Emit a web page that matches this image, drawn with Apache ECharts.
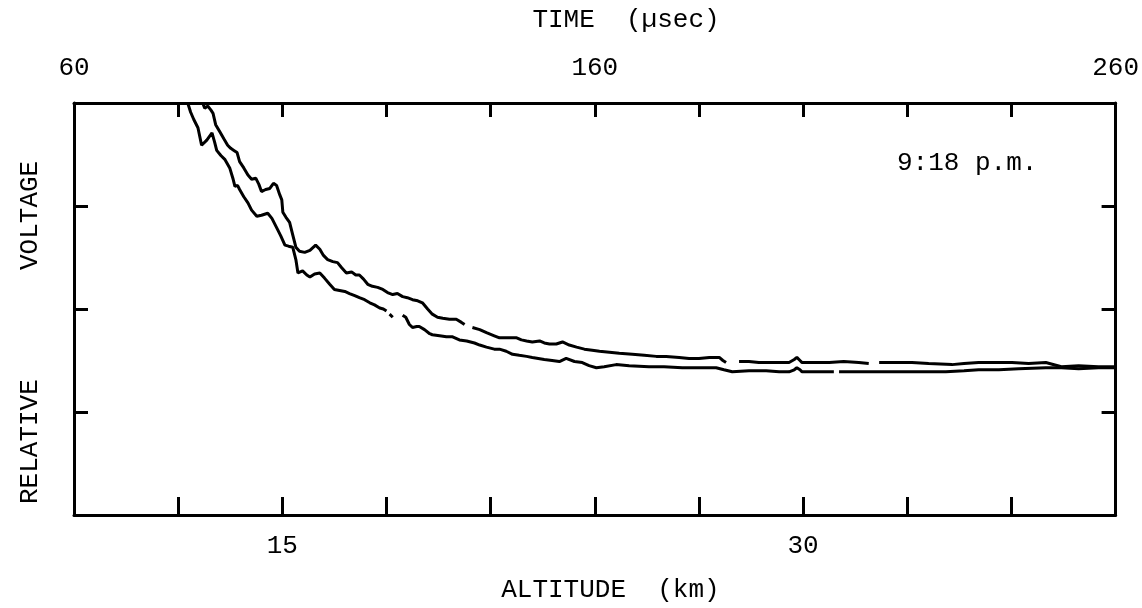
<!DOCTYPE html>
<html>
<head>
<meta charset="utf-8">
<script src="https://cdn.jsdelivr.net/npm/echarts@6/dist/echarts.min.js"></script>
<style>
html,body{margin:0;padding:0;background:#fff;}
#chart{width:1142px;height:608px;}
</style>
</head>
<body>
<div id="chart"></div>
<script>
// Top axis: time in microseconds; bottom axis: altitude in km
const timeTickLabels = [60, 160, 260];
const altitudeTickLabels = [15, 30];
const annotation = '9:18 p.m.';

// Upper trace (time µs, relative voltage); null = gap in the trace
const upperT = [84.7,85.1,85.7,86.3,86.7,87.2,88.0,88.8,89.5,90.1,90.7,91.3,91.8,92.6,93.4,94.1,94.9,95.5,96.0,96.8,97.6,98.3,98.9,99.5,99.9,100.1,100.7,101.4,102.0,102.6,103.3,104.3,105.3,106.4,107.2,107.9,108.7,109.7,110.6,111.4,112.3,113.3,114.1,114.8,115.6,116.4,117.3,118.3,119.3,120.2,121.2,122.1,123.1,124.0,125.0,126.0,126.9,127.9,128.8,129.8,130.8,132.1,133.4,134.4,135.0,135.8,136.5,137.9,139.2,140.7,141.7,143.0,144.0,145.0,145.9,146.9,148.0,149.4,150.3,151.3,152.6,153.8,155.1,156.5,158.0,159.5,160.9,162.8,164.7,167.2,169.5,171.8,173.7,176.2,178.1,180.0,182.0,183.9,184.6,185.2,186.5,187.7,189.6,191.5,192.9,195.4,197.3,198.3,198.8,199.4,199.8,202.1,205.0,207.8,210.7,212.6,213.6,214.6,217.4,220.9,224.1,228.6,230.9,233.7,236.6,240.1,243.3,246.6,249.6,252.9,256.7,260.0];
const upperV = [4.00,3.95,3.97,3.93,3.90,3.79,3.72,3.65,3.59,3.56,3.54,3.52,3.43,3.37,3.30,3.26,3.27,3.21,3.14,3.16,3.17,3.22,3.20,3.11,3.06,2.94,2.89,2.84,2.72,2.60,2.56,2.55,2.57,2.62,2.58,2.52,2.48,2.46,2.45,2.40,2.35,2.36,2.33,2.33,2.29,2.24,2.22,2.21,2.19,2.16,2.14,2.15,2.12,2.11,2.09,2.08,2.06,2.00,1.95,1.92,1.91,1.90,1.90,1.87,1.85,null,1.82,1.80,1.77,1.74,1.72,1.72,1.72,1.72,1.70,1.69,1.68,1.69,1.67,1.66,1.66,1.68,1.65,1.63,1.61,1.60,1.59,1.58,1.57,1.56,1.55,1.54,1.54,1.53,1.52,1.52,1.53,1.53,1.50,1.48,null,1.49,1.49,1.48,1.48,1.48,1.48,1.51,1.53,1.50,1.48,1.48,1.48,1.49,1.48,1.47,null,1.48,1.48,1.48,1.47,1.46,1.47,1.48,1.48,1.48,1.47,1.48,1.44,1.45,1.44,1.44];

// Lower trace
const lowerT = [81.9,82.4,83.0,83.8,84.5,85.5,86.5,87.0,87.4,88.2,89.0,89.9,90.5,90.9,91.4,91.8,92.6,93.4,94.1,95.1,96.0,97.2,98.0,99.1,99.7,100.5,101.2,102.0,102.6,103.0,103.9,104.7,105.3,106.2,107.2,108.1,109.1,110.0,111.0,112.0,112.9,113.9,114.8,115.8,116.8,117.7,118.7,119.4,120.0,120.3,120.6,121.2,122.2,123.1,123.7,124.4,125.0,125.8,126.3,127.3,128.3,128.8,130.2,131.5,132.7,134.0,135.4,136.9,137.9,139.2,140.7,141.7,143.0,144.2,145.5,146.9,148.0,150.3,151.8,153.2,154.5,156.1,157.6,158.9,160.3,161.8,164.1,166.6,170.4,173.3,176.8,180.0,183.3,184.8,186.4,189.6,192.9,195.4,197.3,198.3,198.8,199.4,199.8,203.1,205.9,206.4,206.9,210.7,214.6,218.4,222.2,227.4,230.9,233.7,237.6,241.4,246.6,249.6,252.9,256.7,260.0];
const lowerV = [3.99,3.91,3.84,3.76,3.59,3.64,3.71,3.62,3.54,3.49,3.45,3.37,3.27,3.19,3.20,3.16,3.09,3.03,2.96,2.90,2.91,2.93,2.88,2.77,2.71,2.62,2.61,2.60,2.48,2.35,2.37,2.33,2.31,2.34,2.35,2.30,2.24,2.19,2.18,2.17,2.15,2.13,2.11,2.09,2.06,2.04,2.01,2.00,1.98,null,1.95,1.92,null,1.94,1.92,1.85,1.82,1.83,1.83,1.80,1.76,1.75,1.74,1.73,1.73,1.70,1.69,1.67,1.65,1.63,1.61,1.61,1.59,1.56,1.55,1.54,1.53,1.51,1.50,1.49,1.52,1.49,1.48,1.45,1.43,1.44,1.46,1.45,1.44,1.44,1.43,1.43,1.43,1.41,1.39,1.40,1.40,1.39,1.39,1.41,1.43,1.41,1.39,1.39,1.39,null,1.39,1.39,1.39,1.39,1.39,1.39,1.40,1.41,1.41,1.42,1.43,1.43,1.42,1.43,1.43];

function pairs(ts, vs) {
  return ts.map((t, i) => [t, vs[i] === null ? '-' : vs[i]]);
}

const FONT = '"Liberation Mono", "DejaVu Sans Mono", monospace';
const FS = 26;
const INK = '#000';

const chart = echarts.init(document.getElementById('chart'), null, {renderer: 'canvas'});

const axisLine = {show: true, onZero: false, lineStyle: {color: INK, width: 3}};

chart.setOption({
  backgroundColor: '#fff',
  animation: false,
  grid: {left: 74, right: 25, top: 103, bottom: 92, containLabel: false},
  xAxis: [
    {
      type: 'value', position: 'top', min: 60, max: 260, interval: 20,
      name: '    TIME  (µsec)', nameLocation: 'middle', nameGap: 70,
      nameTextStyle: {fontFamily: FONT, fontSize: FS, color: INK},
      axisLine: axisLine,
      axisTick: {show: true, inside: true, length: 14, lineStyle: {color: INK, width: 3}},
      axisLabel: {
        margin: 22, fontFamily: FONT, fontSize: FS, color: INK,
        formatter: v => timeTickLabels.includes(v) ? String(v) : ''
      },
      splitLine: {show: false}
    },
    {
      type: 'value', position: 'bottom', min: 9, max: 39, interval: 3,
      name: '  ALTITUDE  (km)', nameLocation: 'middle', nameGap: 62,
      nameTextStyle: {fontFamily: FONT, fontSize: FS, color: INK},
      axisLine: axisLine,
      axisTick: {show: true, inside: true, length: 18, lineStyle: {color: INK, width: 3}},
      axisLabel: {
        margin: 18, fontFamily: FONT, fontSize: FS, color: INK,
        formatter: v => altitudeTickLabels.includes(v) ? String(v) : ''
      },
      splitLine: {show: false}
    }
  ],
  yAxis: [
    {
      type: 'value', position: 'left', min: 0, max: 4, interval: 1,
      name: 'RELATIVE       VOLTAGE   ', nameLocation: 'middle', nameGap: 31, nameRotate: 90,
      nameTextStyle: {fontFamily: FONT, fontSize: FS, color: INK},
      axisLine: axisLine,
      axisTick: {show: true, inside: true, length: 14, lineStyle: {color: INK, width: 3}},
      axisLabel: {show: false},
      splitLine: {show: false}
    },
    {
      type: 'value', position: 'right', min: 0, max: 4, interval: 1,
      axisLine: axisLine,
      axisTick: {show: true, inside: true, length: 14, lineStyle: {color: INK, width: 3}},
      axisLabel: {show: false},
      splitLine: {show: false}
    }
  ],
  graphic: [
    {
      type: 'text', left: 897, top: 150,
      style: {text: annotation, fontFamily: FONT, fontSize: FS, fill: INK}
    }
  ],
  series: [
    {
      type: 'line', xAxisIndex: 0, yAxisIndex: 0, data: pairs(upperT, upperV),
      showSymbol: false, connectNulls: false, clip: true,
      lineStyle: {color: '#000', width: 3}
    },
    {
      type: 'line', xAxisIndex: 0, yAxisIndex: 0, data: pairs(lowerT, lowerV),
      showSymbol: false, connectNulls: false, clip: true,
      lineStyle: {color: '#000', width: 3}
    }
  ]
});
</script>
</body>
</html>
